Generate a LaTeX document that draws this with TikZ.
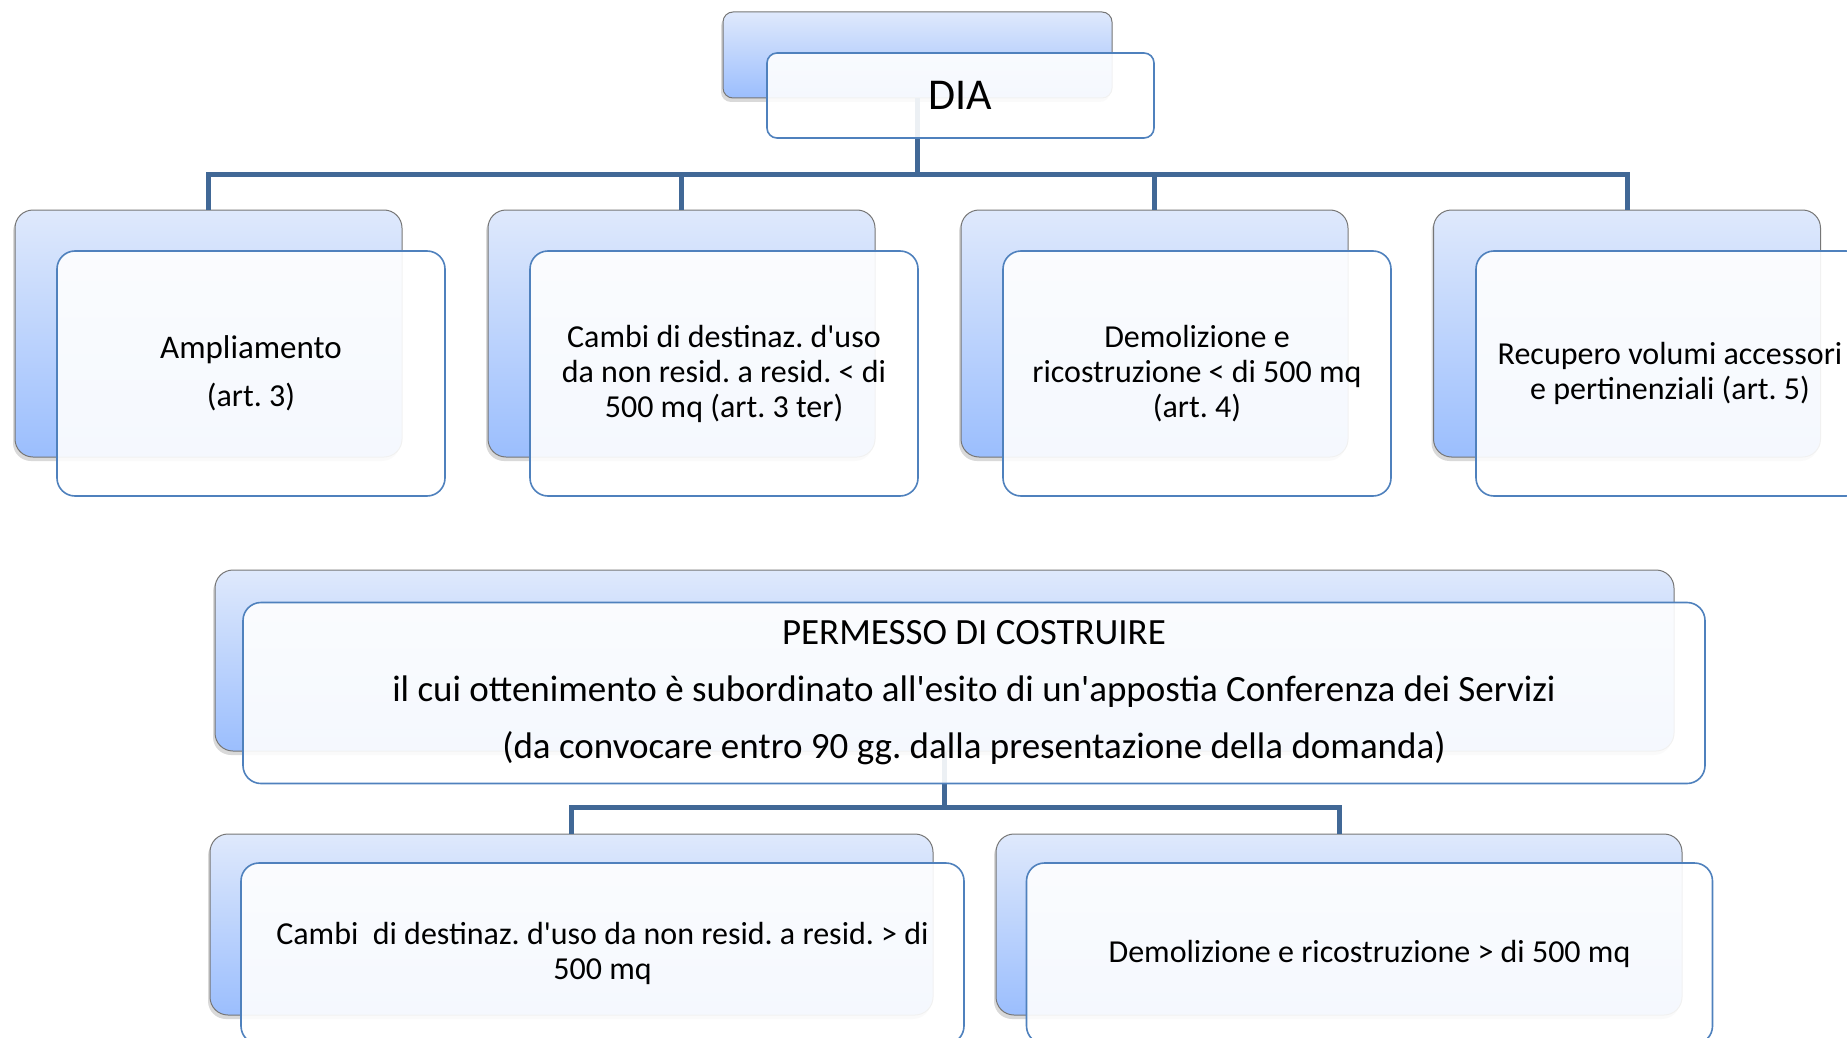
\documentclass[tikz,border=0pt]{standalone}
\usepackage{fontspec}
\setmainfont{Carlito}[Ligatures=TeXOff]
\usetikzlibrary{shadows}
\definecolor{linkblue}{RGB}{65,104,150}
\definecolor{edgeblue}{RGB}{79,129,189}
\definecolor{lighttop}{RGB}{223,233,252}
\definecolor{darkbottom}{RGB}{155,190,253}
\definecolor{backedge}{RGB}{118,118,118}
\frenchspacing

\begin{document}
\begin{tikzpicture}[x=1pt, y=-1pt,
    backbox/.style={rectangle, rounded corners=18pt, draw=backedge, line width=1pt,
        top color=lighttop, bottom color=darkbottom, inner sep=0pt,
        drop shadow={shadow xshift=-2pt, shadow yshift=-4pt, opacity=0.3}},
    frontbox/.style={rectangle, rounded corners=18pt, draw=edgeblue, line width=1.6pt,
        fill=white, fill opacity=0.9, text opacity=1, align=center, inner sep=0pt},
    link/.style={draw=linkblue, line width=5pt},
    smalltext/.style={font=\fontsize{32}{35}\selectfont}]
\useasboundingbox (0,0) rectangle (1847,1038);

\node[backbox, rounded corners=10pt, minimum width=389pt, minimum height=86pt] (diaB) at (917.5,55) {};
\node[backbox, minimum width=387pt, minimum height=247pt] (b1) at (208.5,333.5) {};
\node[backbox, minimum width=387pt, minimum height=247pt] (b2) at (681.5,333.5) {};
\node[backbox, minimum width=387pt, minimum height=247pt] (b3) at (1154.5,333.5) {};
\node[backbox, minimum width=387pt, minimum height=247pt] (b4) at (1627,333.5) {};
\node[backbox, minimum width=1459pt, minimum height=181pt] (permB) at (944.5,660.5) {};
\node[backbox, minimum width=723pt, minimum height=181pt] (c1) at (571.5,924.5) {};
\node[backbox, minimum width=686pt, minimum height=181pt] (c2) at (1339,924.5) {};

\draw[link] (diaB.south) -- ++(0,76) -| (b1.north);
\draw[link] (diaB.south) -- ++(0,76) -| (b2.north);
\draw[link] (diaB.south) -- ++(0,76) -| (b3.north);
\draw[link] (diaB.south) -- ++(0,76) -| (b4.north);
\draw[link] (permB.south) -- ++(0,56) -| (c1.north);
\draw[link] (permB.south) -- ++(0,56) -| (c2.north);

\node[frontbox, rounded corners=10pt, minimum width=387pt, minimum height=85pt,
    font=\fontsize{44}{48}\selectfont] (dia) at (960.5,95.5) {DIA};
\node[frontbox, smalltext, minimum width=388pt, minimum height=245pt] (f1) at (251,373.5)
    {{\fontsize{33}{36}\selectfont Ampliamento}\\[13pt](art. 3)};
\node[frontbox, smalltext, minimum width=388pt, minimum height=245pt] (f2) at (724,373.5)
    {Cambi di destinaz. d'uso\\da non resid. a resid. < di\\500 mq (art. 3 ter)};
\node[frontbox, smalltext, minimum width=388pt, minimum height=245pt] (f3) at (1197,373.5)
    {Demolizione e\\ricostruzione < di 500 mq\\(art. 4)};
\node[frontbox, smalltext, minimum width=388pt, minimum height=245pt] (f4) at (1670,373.5)
    {Recupero volumi accessori\\e pertinenziali (art. 5)};
\node[frontbox, minimum width=1462pt, minimum height=181pt,
    font=\fontsize{37}{57}\selectfont] (perm) at (974,693)
    {PERMESSO DI COSTRUIRE\\il cui ottenimento è subordinato all'esito di un'appostia Conferenza dei Servizi\\(da convocare entro 90 gg. dalla presentazione della domanda)};
\node[frontbox, smalltext, minimum width=723pt, minimum height=181pt] (g1) at (602.5,953.5)
    {Cambi\ \ di destinaz. d'uso da non resid. a resid. > di\\500 mq};
\node[frontbox, smalltext, minimum width=686pt, minimum height=181pt] (g2) at (1369.5,953.5)
    {Demolizione e ricostruzione > di 500 mq};
\end{tikzpicture}
\end{document}
